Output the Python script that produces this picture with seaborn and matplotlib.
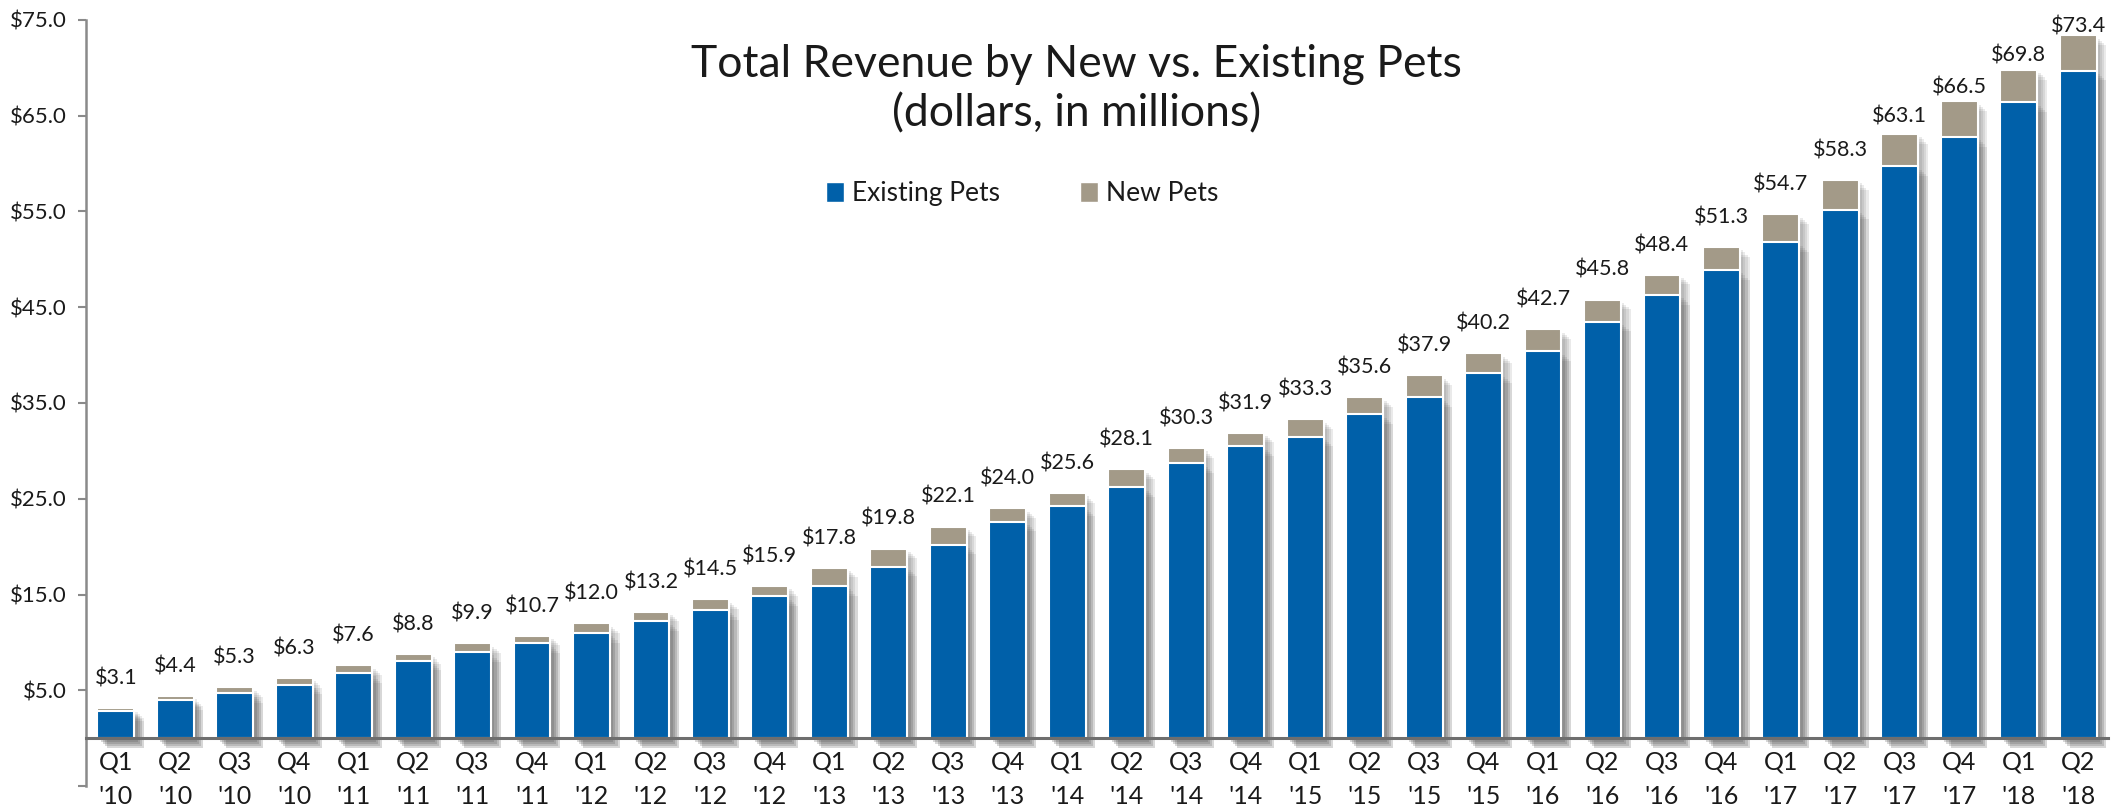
import matplotlib
matplotlib.use('Agg')
import matplotlib.pyplot as plt
import matplotlib.patheffects as pe
from matplotlib.patches import Patch
import seaborn as sns
import pandas as pd

# Quarter labels (two-line tick labels)
quarters = ["Q1\n'10", "Q2\n'10", "Q3\n'10", "Q4\n'10",
            "Q1\n'11", "Q2\n'11", "Q3\n'11", "Q4\n'11",
            "Q1\n'12", "Q2\n'12", "Q3\n'12", "Q4\n'12",
            "Q1\n'13", "Q2\n'13", "Q3\n'13", "Q4\n'13",
            "Q1\n'14", "Q2\n'14", "Q3\n'14", "Q4\n'14",
            "Q1\n'15", "Q2\n'15", "Q3\n'15", "Q4\n'15",
            "Q1\n'16", "Q2\n'16", "Q3\n'16", "Q4\n'16",
            "Q1\n'17", "Q2\n'17", "Q3\n'17", "Q4\n'17",
            "Q1\n'18", "Q2\n'18"]

# Revenue from existing pets
existing_pets = [2.8, 4.0, 4.7, 5.6, 6.8, 8.1, 9.0, 9.9,
                 11.0, 12.2, 13.4, 14.8, 15.9, 17.9, 20.2, 22.6,
                 24.2, 26.2, 28.7, 30.5, 31.5, 33.8, 35.6, 38.1,
                 40.4, 43.5, 46.3, 48.9, 51.8, 55.2, 59.7, 62.8,
                 66.4, 69.7]

# Revenue from new pets (grey part stacked on top)
new_pets = [0.3, 0.4, 0.6, 0.7, 0.8, 0.7, 0.9, 0.8,
            1.0, 1.0, 1.1, 1.1, 1.9, 1.9, 1.9, 1.4,
            1.4, 1.9, 1.6, 1.4, 1.8, 1.8, 2.3, 2.1,
            2.3, 2.3, 2.1, 2.4, 2.9, 3.1, 3.4, 3.7,
            3.4, 3.7]

# Total labels printed above each bar
total_labels = [3.1, 4.4, 5.3, 6.3, 7.6, 8.8, 9.9, 10.7,
                12.0, 13.2, 14.5, 15.9, 17.8, 19.8, 22.1, 24.0,
                25.6, 28.1, 30.3, 31.9, 33.3, 35.6, 37.9, 40.2,
                42.7, 45.8, 48.4, 51.3, 54.7, 58.3, 63.1, 66.5,
                69.8, 73.4]

df = pd.DataFrame({'Quarter': quarters, 'Existing': existing_pets, 'New': new_pets})
df['Total'] = df['Existing'] + df['New']

blue = '#0060A9'
grey = '#A39A88'
text_color = '#1a1a1a'

sns.set_style('white')
plt.rcParams['font.family'] = ['Lato', 'DejaVu Sans']

fig = plt.figure(figsize=(21.15, 8.1), dpi=100)
ax = fig.add_axes([86 / 2115, 1 - 786 / 810, (2108 - 86) / 2115, (786 - 20) / 810])

# grey (new pets) drawn to the total height, blue (existing) drawn over it
sns.barplot(data=df, x='Quarter', y='Total', color=grey, saturation=1,
            width=0.62, edgecolor='white', linewidth=1.5, ax=ax)
sns.barplot(data=df, x='Quarter', y='Existing', color=blue, saturation=1,
            width=0.62, edgecolor='white', linewidth=1.5, ax=ax)

# soft drop shadow made of a few faint layers
shadow = [pe.SimplePatchShadow(offset=(o, -o), shadow_rgbFace='#555555', alpha=0.12)
          for o in (7, 5.5, 4, 2.5)] + [pe.Normal()]
for p in ax.patches:
    p.set_path_effects(shadow)

# Total labels above the bars (the last few sit closer to the bar, as in the original)
label_gap = {30: 8, 31: 6, 32: 6, 33: 2}
for i, v in enumerate(total_labels):
    ax.annotate(f'${v:.1f}', xy=(i, df['Total'][i]), xytext=(0, label_gap.get(i, 17)),
                textcoords='offset points', ha='center', va='baseline',
                fontsize=15.5, color=text_color)

ax.set_ylim(-5, 75)
ax.set_xlim(-0.5, len(quarters) - 0.5)
yt = list(range(-5, 76, 10))
ax.set_yticks(yt)
ax.set_yticklabels(['' if t < 0 else f'${t:.1f}' for t in yt])
ax.set_xlabel('')
ax.set_ylabel('')

sns.despine(ax=ax, top=True, right=True)
ax.spines['bottom'].set_position(('data', 0))
ax.spines['bottom'].set_color('#6e6e6e')
ax.spines['bottom'].set_linewidth(2.2)
ax.spines['bottom'].set_zorder(5)
ax.spines['left'].set_color('#8a8a8a')
ax.spines['left'].set_linewidth(1.8)

ax.tick_params(axis='y', direction='out', length=6, width=1.5, color='#8a8a8a',
               labelsize=16, labelcolor=text_color, pad=8, left=True)
ax.tick_params(axis='x', length=0, labelsize=18, labelcolor=text_color, pad=9)
for lbl in ax.get_xticklabels():
    lbl.set_linespacing(1.6)

# Title
fig.text(0.509, 0.89, 'Total Revenue by New vs. Existing Pets\n(dollars, in millions)',
         ha='center', va='center', fontsize=32, color=text_color,
         linespacing=1.25)

# Legend
handles = [Patch(facecolor=blue, edgecolor='white', label='Existing Pets'),
           Patch(facecolor=grey, edgecolor='white', label='New Pets')]
ax.legend(handles=handles, loc='center', bbox_to_anchor=(0.463, 0.773), ncol=2,
          frameon=False, fontsize=19, handlelength=0.7, handleheight=0.8,
          handletextpad=0.3, columnspacing=3.0, labelcolor=text_color)

plt.savefig('out.png', dpi=100)
